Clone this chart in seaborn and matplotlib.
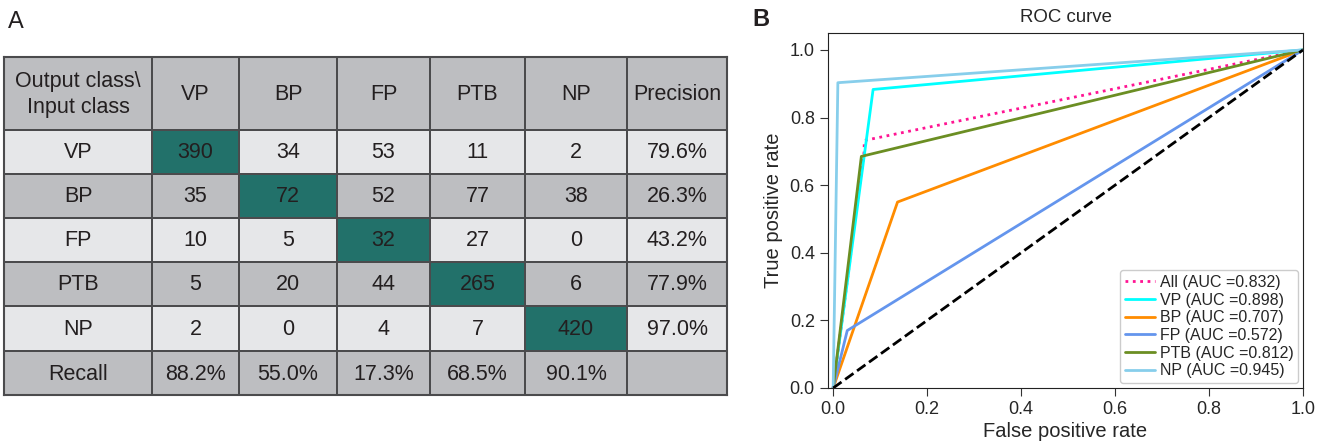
"""
Panel A: confusion matrix table of the five classes with precision / recall.
Panel B: one-vs-rest ROC curves with AUC in the legend.
"""
import numpy as np
import pandas as pd
import matplotlib
matplotlib.use("Agg")
import matplotlib.pyplot as plt
from matplotlib.colors import ListedColormap
import seaborn as sns

# --- data -------------------------------------------------------------------
classes = ["VP", "BP", "FP", "PTB", "NP"]
confusion = [
    [390, 34, 53, 11, 2],
    [35, 72, 52, 77, 38],
    [10, 5, 32, 27, 0],
    [5, 20, 44, 265, 6],
    [2, 0, 4, 7, 420],
]
precision = ["79.6%", "26.3%", "43.2%", "77.9%", "97.0%"]
recall = ["88.2%", "55.0%", "17.3%", "68.5%", "90.1%"]

roc_names = ["All", "VP", "BP", "FP", "PTB", "NP"]
roc_auc = [0.832, 0.898, 0.707, 0.572, 0.812, 0.945]
roc_fpr = [
    [0.0, 0.066, 0.066, 1.0],
    [0.0, 0.085, 1.0],
    [0.0, 0.137, 1.0],
    [0.0, 0.030, 1.0],
    [0.0, 0.060, 1.0],
    [0.0, 0.010, 1.0],
]
roc_tpr = [
    [0.0, 0.700, 0.732, 1.0],
    [0.0, 0.883, 1.0],
    [0.0, 0.550, 1.0],
    [0.0, 0.170, 1.0],
    [0.0, 0.685, 1.0],
    [0.0, 0.903, 1.0],
]

# --- style ------------------------------------------------------------------
sns.set_style("ticks")
plt.rcParams["font.family"] = ["Liberation Sans", "DejaVu Sans"]

HEAD_GREY = "#bdbec1"
LIGHT_GREY = "#e6e7e9"
GREEN = "#22716a"
TEXT = "#231f20"
LINE = "#4b4b4d"
roc_colors = ["#ff1493", "#00ffff", "#ff8c00", "#6495ed", "#6b8e23", "#87ceeb"]

fig = plt.figure(figsize=(13.31, 4.46), dpi=100)

# --- panel A: table ---------------------------------------------------------
ax_t = fig.add_axes([4 / 1331, 51 / 446, 723 / 1331, 338 / 446])
col_edges = np.array([0, 148, 235, 333, 426, 521, 623, 723])
row_edges = np.array([0, 73, 117, 161, 205, 249, 294, 338])

n = len(classes)
texts = [["Output class\\\nInput class"] + classes + ["Precision"]]
for i, cls in enumerate(classes):
    texts.append([cls] + [str(v) for v in confusion[i]] + [precision[i]])
texts.append(["Recall"] + recall + [""])

# colour code: 0 grey, 1 light, 2 green
codes = np.zeros((n + 2, n + 2), dtype=int)
for r in range(1, n + 1):
    codes[r, :] = 1 if r % 2 == 1 else 0
    codes[r, r] = 2

ax_t.pcolormesh(col_edges, row_edges, codes,
                cmap=ListedColormap([HEAD_GREY, LIGHT_GREY, GREEN]),
                vmin=-0.5, vmax=2.5, edgecolors=LINE, linewidth=1.3)
for r, row in enumerate(texts):
    yc = (row_edges[r] + row_edges[r + 1]) / 2
    for c, s in enumerate(row):
        xc = (col_edges[c] + col_edges[c + 1]) / 2
        ax_t.text(xc, yc + 1, s, ha="center", va="center", fontsize=15.5,
                  color=TEXT, linespacing=1.35)
ax_t.set_xlim(col_edges[0], col_edges[-1])
ax_t.set_ylim(row_edges[-1], row_edges[0])
ax_t.set_xticks([])
ax_t.set_yticks([])
for sp in ax_t.spines.values():
    sp.set_color(LINE)
    sp.set_linewidth(1.5)

fig.text(8 / 1331, 1 - 22 / 446, "A", fontsize=17, va="center", ha="left", color=TEXT)

# --- panel B: ROC curves ----------------------------------------------------
ax_r = fig.add_axes([828 / 1331, 58 / 446, 475 / 1331, 355 / 446])
for name, auc, fpr, tpr, col in zip(roc_names, roc_auc, roc_fpr, roc_tpr, roc_colors):
    df = pd.DataFrame({"fpr": fpr, "tpr": tpr})
    sns.lineplot(data=df, x="fpr", y="tpr", ax=ax_r, sort=False, estimator=None,
                 color=col, linewidth=2,
                 linestyle=":" if name == "All" else "-",
                 label=f"{name} (AUC ={auc:.3f})")
ax_r.plot([0, 1], [0, 1], "k--", linewidth=2)

ax_r.set_xlim(-0.011, 1.0)
ax_r.set_ylim(0.0, 1.05)
ax_r.set_xticks(np.arange(0, 1.01, 0.2))
ax_r.set_yticks(np.arange(0, 1.01, 0.2))
ax_r.tick_params(labelsize=13, length=6, color="#333333")
ax_r.set_xlabel("False positive rate", fontsize=14.5, labelpad=3)
ax_r.set_ylabel("True positive rate", fontsize=14.5, labelpad=5)
ax_r.set_title("ROC curve", fontsize=13.4, pad=8)
for sp in ax_r.spines.values():
    sp.set_visible(True)
    sp.set_color("#222222")
ax_r.legend(loc="lower right", fontsize=11.5, handlelength=1.9, labelspacing=0.17,
            handletextpad=0.3, borderpad=0.3, borderaxespad=0.3, framealpha=1)

fig.text(752 / 1331, 1 - 20 / 446, "B", fontsize=17, va="center", ha="left",
         color=TEXT, fontweight="bold")

fig.savefig("out.png", dpi=100)
